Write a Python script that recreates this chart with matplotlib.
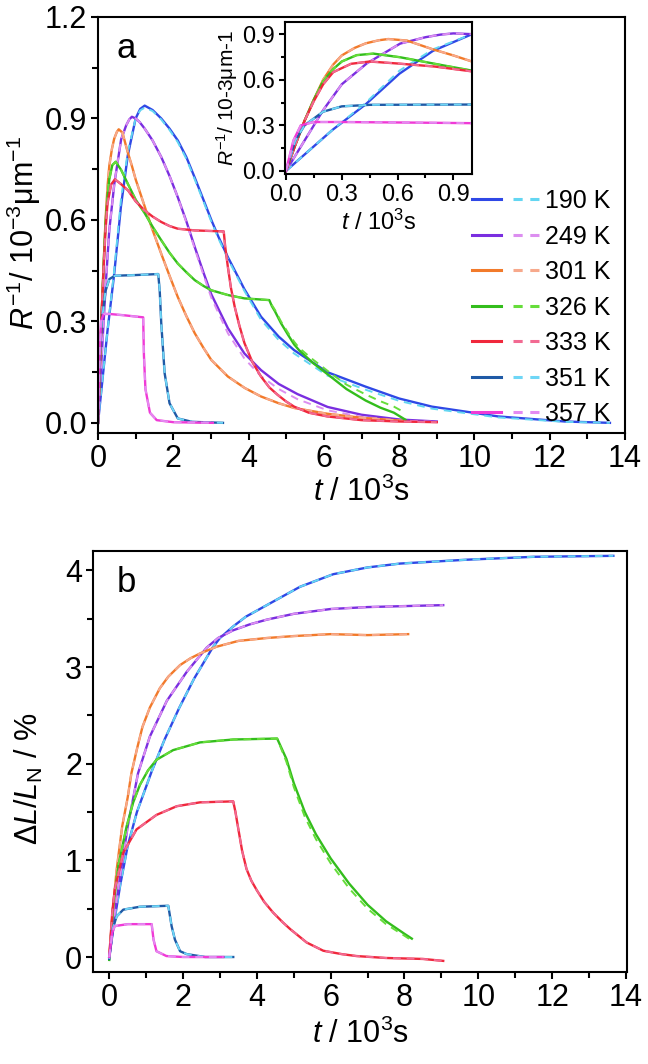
import matplotlib
matplotlib.use("Agg")
import matplotlib.pyplot as plt
from matplotlib.lines import Line2D
from matplotlib.legend_handler import HandlerTuple
from matplotlib.ticker import MultipleLocator, FormatStrFormatter

# ----------------------------
# Style
# ----------------------------
plt.rcParams["font.family"] = ["Liberation Sans", "DejaVu Sans"]
plt.rcParams["mathtext.fontset"] = "custom"
plt.rcParams["mathtext.rm"] = "Liberation Sans"
plt.rcParams["mathtext.it"] = "Liberation Sans:italic"
plt.rcParams["axes.linewidth"] = 1.5

# ----------------------------
# Data, panel a: R^-1 (10^-3 um^-1) vs t (10^3 s)
# ----------------------------
labels = ["190 K", "249 K", "301 K", "326 K", "333 K", "351 K", "357 K"]
solid_colors = ["#2f48e6", "#7a2ee0", "#f27a2a", "#33bd1c", "#f0283c", "#1f5aa6", "#f03ad6"]
dash_colors = ["#63d6f2", "#dc8ef0", "#f7a98c", "#66dd3a", "#f26a92", "#6ed6f6", "#e48af2"]

a_t_190 = [0, 0.25, 0.43, 0.61, 0.79, 1.0, 1.12, 1.24, 1.45, 1.68, 1.9, 2.12, 2.35, 2.57, 2.8, 3.01,
           3.2, 3.45, 3.89, 4.33, 4.8, 5.21, 6.09, 7.11, 8.0, 8.87, 10.63, 12.4, 13.6]
a_r_190 = [0, 0.27, 0.44, 0.64, 0.79, 0.90, 0.928, 0.938, 0.925, 0.90, 0.87, 0.835, 0.785, 0.725, 0.66, 0.60,
           0.55, 0.49, 0.395, 0.314, 0.255, 0.215, 0.15, 0.107, 0.072, 0.048, 0.019, 0.004, 0.0]
a_r_190_fit = [0, 0.27, 0.45, 0.66, 0.80, 0.90, 0.924, 0.932, 0.922, 0.897, 0.866, 0.83, 0.78, 0.72, 0.655, 0.595,
               0.545, 0.485, 0.39, 0.305, 0.245, 0.205, 0.14, 0.098, 0.065, 0.042, 0.016, 0.003, 0.0]

a_t_249 = [0, 0.1, 0.2, 0.3, 0.434, 0.614, 0.75, 0.83, 0.9, 1.0, 1.1, 1.24, 1.45, 1.68, 1.9, 2.12,
           2.35, 2.57, 2.8, 3.01, 3.45, 3.89, 4.33, 4.8, 5.3, 6.1, 7.0, 8.0, 9.0]
a_r_249 = [0, 0.2, 0.4, 0.57, 0.707, 0.838, 0.88, 0.897, 0.905, 0.90, 0.89, 0.87, 0.835, 0.786, 0.73, 0.667,
           0.595, 0.52, 0.445, 0.38, 0.28, 0.205, 0.156, 0.115, 0.085, 0.047, 0.024, 0.01, 0.004]
a_r_249_fit = [0, 0.2, 0.4, 0.57, 0.707, 0.838, 0.88, 0.897, 0.905, 0.90, 0.89, 0.87, 0.835, 0.786, 0.73, 0.667,
               0.592, 0.515, 0.438, 0.37, 0.265, 0.19, 0.138, 0.1, 0.07, 0.037, 0.018, 0.007, 0.003]

a_t_301 = [0, 0.05, 0.1, 0.15, 0.2, 0.254, 0.3, 0.37, 0.43, 0.5, 0.55, 0.65, 0.79, 0.9, 1.0, 1.24,
           1.45, 1.68, 1.9, 2.12, 2.35, 2.57, 2.8, 3.01, 3.45, 3.9, 4.33, 4.8, 5.21, 6.09, 7.0, 8.1]
a_r_301 = [0, 0.17, 0.33, 0.47, 0.6, 0.7, 0.76, 0.81, 0.84, 0.86, 0.868, 0.858, 0.80, 0.76, 0.72, 0.64,
           0.57, 0.50, 0.435, 0.372, 0.315, 0.265, 0.222, 0.186, 0.137, 0.103, 0.078, 0.058, 0.044, 0.027, 0.015, 0.006]

a_t_326 = [0, 0.05, 0.1, 0.15, 0.2, 0.254, 0.3, 0.38, 0.47, 0.614, 0.8, 1.0, 1.24, 1.45, 1.68, 1.9,
           2.12, 2.35, 2.57, 2.8, 3.01, 3.45, 3.89, 4.55, 4.62, 4.7, 4.86, 5.05, 5.21, 5.34, 5.7, 6.2,
           6.6, 7.11, 7.5, 7.86, 8.17]
a_r_326 = [0, 0.17, 0.33, 0.47, 0.59, 0.67, 0.72, 0.762, 0.772, 0.748, 0.705, 0.66, 0.62, 0.58, 0.54, 0.503,
           0.471, 0.445, 0.422, 0.405, 0.392, 0.378, 0.368, 0.363, 0.345, 0.33, 0.295, 0.26, 0.232, 0.215, 0.178, 0.135,
           0.1, 0.066, 0.045, 0.03, 0.009]
a_r_326_fit = [0, 0.17, 0.33, 0.47, 0.59, 0.67, 0.72, 0.762, 0.772, 0.748, 0.705, 0.66, 0.62, 0.58, 0.54, 0.503,
               0.471, 0.445, 0.422, 0.405, 0.392, 0.378, 0.368, 0.363, 0.348, 0.334, 0.30, 0.266, 0.24, 0.222, 0.188, 0.145,
               0.113, 0.084, 0.064, 0.048, 0.029]

a_t_333 = [0, 0.05, 0.1, 0.15, 0.2, 0.254, 0.35, 0.45, 0.6, 0.8, 1.0, 1.24, 1.45, 1.68, 1.9, 2.12,
           2.57, 3.34, 3.38, 3.45, 3.53, 3.63, 3.75, 3.89, 4.1, 4.33, 4.55, 4.77, 5.0, 5.21, 5.6, 6.09,
           7.0, 8.0, 9.0]
a_r_333 = [0, 0.17, 0.33, 0.46, 0.57, 0.65, 0.705, 0.72, 0.707, 0.687, 0.655, 0.628, 0.61, 0.594, 0.582, 0.574,
           0.569, 0.566, 0.52, 0.461, 0.40, 0.344, 0.29, 0.236, 0.18, 0.137, 0.105, 0.083, 0.063, 0.048, 0.03, 0.019,
           0.008, 0.004, 0.002]

a_t_351 = [0, 0.05, 0.1, 0.2, 0.3, 0.45, 1.0, 1.6, 1.64, 1.68, 1.77, 1.9, 2.12, 2.5, 3.32]
a_r_351 = [0, 0.2, 0.3, 0.39, 0.425, 0.435, 0.437, 0.44, 0.39, 0.295, 0.147, 0.058, 0.013, 0.003, 0.0]

a_t_357 = [0, 0.04, 0.08, 0.15, 0.3, 0.7, 1.2, 1.22, 1.26, 1.38, 1.56, 2.0, 3.05]
a_r_357 = [0, 0.2, 0.3, 0.322, 0.322, 0.318, 0.312, 0.2, 0.1, 0.03, 0.008, 0.002, 0.0]

# ----------------------------
# Data, panel b: dL/L_N (%) vs t (10^3 s)
# ----------------------------
b_t_190 = [0, 0.15, 0.3, 0.5, 0.75, 1.15, 1.5, 1.9, 2.3, 2.8, 3.0, 3.36, 3.7, 4.27, 5.17, 6.07,
           7.0, 7.88, 9.69, 11.5, 13.66]
b_l_190 = [0, 0.4, 0.75, 1.15, 1.5, 1.92, 2.25, 2.58, 2.88, 3.2, 3.3, 3.42, 3.52, 3.64, 3.83, 3.96,
           4.03, 4.07, 4.11, 4.14, 4.15]

b_t_249 = [0, 0.15, 0.3, 0.5, 0.78, 1.1, 1.56, 2.1, 2.64, 2.95, 3.36, 3.8, 4.27, 5.0, 6.0, 7.0,
           8.0, 9.05]
b_l_249 = [0, 0.45, 0.85, 1.35, 1.9, 2.28, 2.65, 2.95, 3.2, 3.3, 3.38, 3.44, 3.49, 3.55, 3.6, 3.62,
           3.63, 3.64]

b_t_301 = [0, 0.1, 0.2, 0.35, 0.5, 0.6, 0.75, 0.9, 1.1, 1.37, 1.6, 1.92, 2.2, 2.46, 2.91, 3.5,
           4.27, 5.0, 6.0, 7.0, 8.1]
b_l_301 = [0, 0.5, 0.9, 1.35, 1.65, 1.9, 2.15, 2.38, 2.58, 2.78, 2.9, 3.02, 3.09, 3.14, 3.21, 3.27,
           3.3, 3.32, 3.34, 3.33, 3.34]

b_t_326 = [0, 0.1, 0.25, 0.47, 0.65, 0.83, 1.05, 1.28, 1.73, 2.46, 3.36, 4.55, 4.8, 5.0, 5.3, 5.6,
           6.0, 6.5, 7.0, 7.5, 8.0, 8.2]
b_l_326 = [-0.03, 0.5, 0.95, 1.35, 1.6, 1.78, 1.93, 2.04, 2.14, 2.22, 2.25, 2.26, 2.05, 1.8, 1.5, 1.27,
           1.02, 0.76, 0.54, 0.37, 0.24, 0.19]
b_l_326_fit = [-0.03, 0.5, 0.95, 1.35, 1.6, 1.78, 1.93, 2.04, 2.14, 2.22, 2.25, 2.26, 2.02, 1.76, 1.45, 1.22,
               0.97, 0.71, 0.5, 0.34, 0.22, 0.17]

b_t_333 = [0, 0.08, 0.15, 0.38, 0.74, 1.28, 1.83, 2.46, 3.36, 3.42, 3.5, 3.6, 3.72, 3.85, 4.0, 4.2,
           4.44, 4.7, 4.9, 5.35, 5.8, 6.3, 6.7, 7.5, 8.5, 9.05]
b_l_333 = [0, 0.45, 0.7, 1.08, 1.32, 1.47, 1.56, 1.6, 1.61, 1.5, 1.32, 1.1, 0.91, 0.79, 0.69, 0.57,
           0.46, 0.36, 0.29, 0.15, 0.065, 0.03, 0.01, -0.01, -0.02, -0.04]

b_t_351 = [0, 0.1, 0.2, 0.38, 0.83, 1.6, 1.69, 1.78, 1.92, 2.1, 2.6, 3.36]
b_l_351 = [-0.02, 0.3, 0.42, 0.49, 0.52, 0.53, 0.32, 0.18, 0.06, 0.03, 0.0, 0.0]

b_t_357 = [0, 0.08, 0.15, 0.5, 1.15, 1.2, 1.28, 1.55, 2.0, 3.09]
b_l_357 = [0, 0.25, 0.32, 0.34, 0.34, 0.18, 0.06, 0.01, 0.0, 0.0]

panel_a = [
    (a_t_190, a_r_190, a_r_190_fit),
    (a_t_249, a_r_249, a_r_249_fit),
    (a_t_301, a_r_301, a_r_301),
    (a_t_326, a_r_326, a_r_326_fit),
    (a_t_333, a_r_333, a_r_333),
    (a_t_351, a_r_351, a_r_351),
    (a_t_357, a_r_357, a_r_357),
]
panel_b = [
    (b_t_190, b_l_190, b_l_190),
    (b_t_249, b_l_249, b_l_249),
    (b_t_301, b_l_301, b_l_301),
    (b_t_326, b_l_326, b_l_326_fit),
    (b_t_333, b_l_333, b_l_333),
    (b_t_351, b_l_351, b_l_351),
    (b_t_357, b_l_357, b_l_357),
]

# ----------------------------
# Figure
# ----------------------------
W, H = 648, 1064
fig = plt.figure(figsize=(W / 100, H / 100), dpi=100)


def px_axes(left, top, right, bottom):
    return fig.add_axes([left / W, 1 - bottom / H, (right - left) / W, (bottom - top) / H])


def style_ticks(ax, size, major_len=5, minor_len=4):
    ax.tick_params(which="both", direction="out", top=False, right=False, width=1.5)
    ax.tick_params(which="major", length=major_len, labelsize=size, pad=3)
    ax.tick_params(which="minor", length=minor_len)


def draw_curves(ax, data):
    for (t, y, yfit), c1, c2 in zip(data, solid_colors, dash_colors):
        ax.plot(t, y, color=c1, lw=1.7, solid_joinstyle="round")
        ax.plot(t, yfit, color=c2, lw=1.4, ls=(0, (4, 3)))


# ---- panel a
axa = px_axes(98, 17, 625, 433)
draw_curves(axa, panel_a)
axa.set_xlim(0, 14)
axa.set_ylim(-0.03, 1.2)
axa.xaxis.set_major_locator(MultipleLocator(2))
axa.xaxis.set_minor_locator(MultipleLocator(1))
axa.yaxis.set_major_locator(MultipleLocator(0.3))
axa.yaxis.set_minor_locator(MultipleLocator(0.15))
axa.yaxis.set_major_formatter(FormatStrFormatter("%.1f"))
style_ticks(axa, 22)
axa.set_xlabel(r"$t$ / 10$^{3}$s", fontsize=22, labelpad=2)
axa.set_ylabel(r"$R^{-1}$/ 10$^{-3}$μm$^{-1}$", fontsize=22)
axa.yaxis.set_label_coords(-0.105, 0.48)
axa.text(0.035, 0.965, "a", transform=axa.transAxes, fontsize=25, va="top", ha="left")

# legend: solid (data) + dashed (fit) per temperature
handles = []
for c1, c2 in zip(solid_colors, dash_colors):
    h1 = Line2D([], [], color=c1, lw=2.2)
    h2 = Line2D([], [], color=c2, lw=2.2, ls=(0, (3, 2.5)))
    handles.append((h1, h2))
axa.legend(handles, labels, handler_map={tuple: HandlerTuple(ndivide=None, pad=0.47)},
           loc="upper left", bbox_to_anchor=(0.709, 0.586), frameon=False, fontsize=18,
           handlelength=2.8, handletextpad=0.12, labelspacing=0.46, borderpad=0, borderaxespad=0)

# ---- inset
axi = px_axes(285, 22, 472, 174)
draw_curves(axi, panel_a)
axi.set_xlim(-0.005, 1.0)
axi.set_ylim(-0.02, 0.98)
axi.xaxis.set_major_locator(MultipleLocator(0.3))
axi.xaxis.set_minor_locator(MultipleLocator(0.15))
axi.yaxis.set_major_locator(MultipleLocator(0.3))
axi.yaxis.set_minor_locator(MultipleLocator(0.15))
axi.xaxis.set_major_formatter(FormatStrFormatter("%.1f"))
axi.yaxis.set_major_formatter(FormatStrFormatter("%.1f"))
style_ticks(axi, 17, major_len=4, minor_len=3)
axi.set_xlabel(r"$t$ / 10$^{3}$s", fontsize=17, labelpad=3)
axi.set_ylabel(r"$R^{-1}$/ 10-3μm-1", fontsize=15, labelpad=2)

# ---- panel b
axb = px_axes(93, 551, 627, 972)
draw_curves(axb, panel_b)
axb.set_xlim(-0.44, 14.03)
axb.set_ylim(-0.155, 4.2)
axb.xaxis.set_major_locator(MultipleLocator(2))
axb.xaxis.set_minor_locator(MultipleLocator(1))
axb.yaxis.set_major_locator(MultipleLocator(1))
axb.yaxis.set_minor_locator(MultipleLocator(0.5))
style_ticks(axb, 22)
axb.set_xlabel(r"$t$ / 10$^{3}$s", fontsize=22, labelpad=4)
axb.set_ylabel(r"Δ$L$/$L_{\mathrm{N}}$ / %", fontsize=22)
axb.yaxis.set_label_coords(-0.09, 0.46)
axb.text(0.045, 0.965, "b", transform=axb.transAxes, fontsize=25, va="top", ha="left")

fig.savefig("out.png", dpi=100)
